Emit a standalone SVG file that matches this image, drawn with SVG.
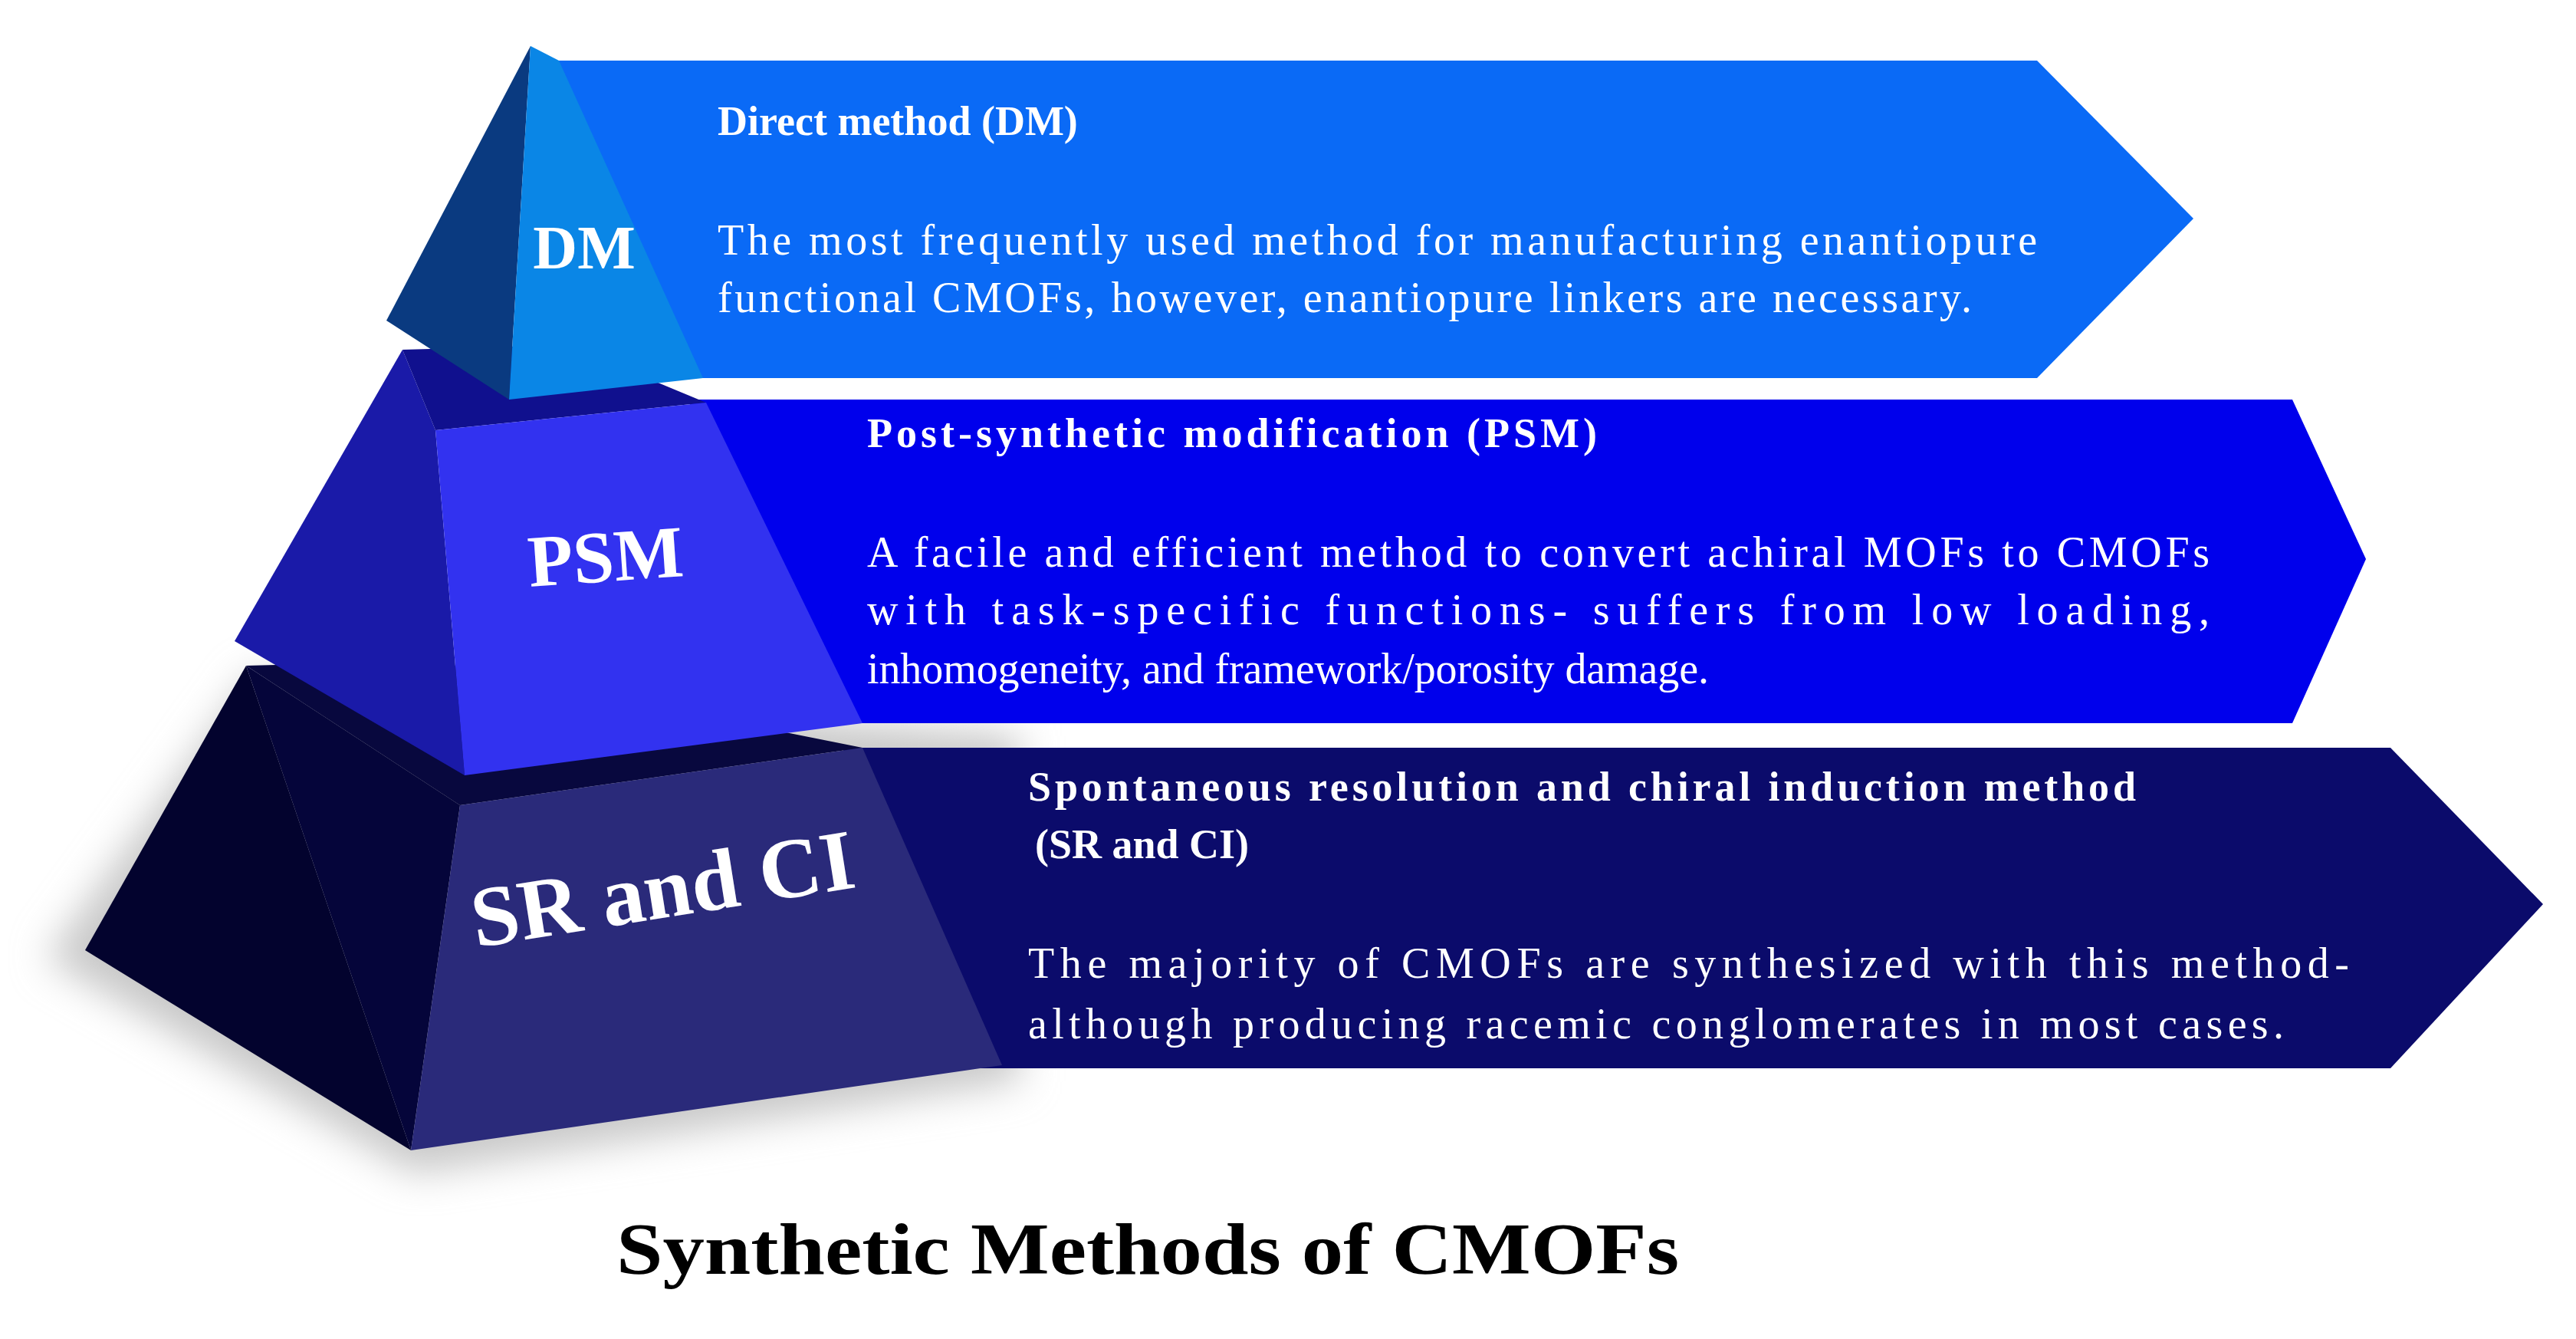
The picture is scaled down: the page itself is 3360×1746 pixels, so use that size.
<svg xmlns="http://www.w3.org/2000/svg" width="3360" height="1746" viewBox="0 0 3360 1746">
<defs>
<filter id="sh" x="-20%" y="-20%" width="140%" height="140%"><feGaussianBlur stdDeviation="25"/></filter>
<style>
text{font-family:"Liberation Serif","Times New Roman",serif;fill:#fff}
.h{font-weight:bold;font-size:54px}
.b{font-size:56px}
.lab{font-weight:bold}
.title{fill:#000;font-weight:bold;font-size:96px}
</style>
</defs>
<rect width="3360" height="1746" fill="#fff"/>
<polygon points="60,1250 330,880 1330,960 1330,1410 540,1530" fill="#c8c8c8" filter="url(#sh)"/>
<g id="sr">
<polygon points="1100,975 3118,975 3317,1179 3118,1393 1100,1393" fill="#0b0b6b"/>
<polygon points="321,868 111,1239 536,1500" fill="#03032e"/>
<polygon points="321,868 560,862 1125,975 600,1050" fill="#08083e"/>
<polygon points="321,868 600,1050 536,1500" fill="#05053a"/>
<polygon points="600,1050 1125,975 1307,1389 536,1500" fill="#2a2a7a"/>
<text class="lab" font-size="112" transform="translate(870,1196) rotate(-9)" text-anchor="middle">SR and CI</text>
<text class="h" x="1341" y="1044" textLength="1445" lengthAdjust="spacing">Spontaneous resolution and chiral induction method</text>
<text class="h" x="1350" y="1119">(SR and CI)</text>
<text class="b" x="1341" y="1275" textLength="1723" lengthAdjust="spacing">The majority of CMOFs are synthesized with this method-</text>
<text class="b" x="1341" y="1354" textLength="1638" lengthAdjust="spacing">although producing racemic conglomerates in most cases.</text>
</g>
<g id="psm">
<polygon points="900,521 2990,521 3086,729 2990,943 900,943" fill="#0000ec"/>
<polygon points="525,456 306,836 606,1011 568,561" fill="#1a1aa8"/>
<polygon points="525,456 740,450 921,525 568,561" fill="#10108e"/>
<polygon points="568,561 921,525 1125,943 606,1011" fill="#3232f0"/>
<text class="lab" font-size="96" transform="translate(792,758) rotate(-4)" text-anchor="middle">PSM</text>
<text class="h" x="1131" y="583" textLength="952" lengthAdjust="spacing">Post-synthetic modification (PSM)</text>
<text class="b" x="1131" y="739" textLength="1751" lengthAdjust="spacing">A facile and efficient method to convert achiral MOFs to CMOFs</text>
<text class="b" x="1131" y="814" textLength="1751" lengthAdjust="spacing">with task-specific functions- suffers from low loading,</text>
<text class="b" x="1131" y="891" textLength="1098" lengthAdjust="spacing">inhomogeneity, and framework/porosity damage.</text>
</g>
<g id="dm">
<polygon points="729,79 2657,79 2861,285 2657,493 729,493" fill="#0a6af6"/>
<polygon points="692,60 504,418 664,521" fill="#0a3a80"/>
<polygon points="692,60 729,79 917,493 664,521" fill="#0a86e6"/>
<text class="lab" font-size="80" x="762" y="350" text-anchor="middle">DM</text>
<text class="h" x="936" y="176">Direct method (DM)</text>
<text class="b" x="936" y="332" textLength="1721" lengthAdjust="spacing">The most frequently used method for manufacturing enantiopure</text>
<text class="b" x="936" y="407" textLength="1636" lengthAdjust="spacing">functional CMOFs, however, enantiopure linkers are necessary.</text>
</g>
<text class="title" x="1497" y="1661" text-anchor="middle" textLength="1386" lengthAdjust="spacingAndGlyphs">Synthetic Methods of CMOFs</text>
</svg>
